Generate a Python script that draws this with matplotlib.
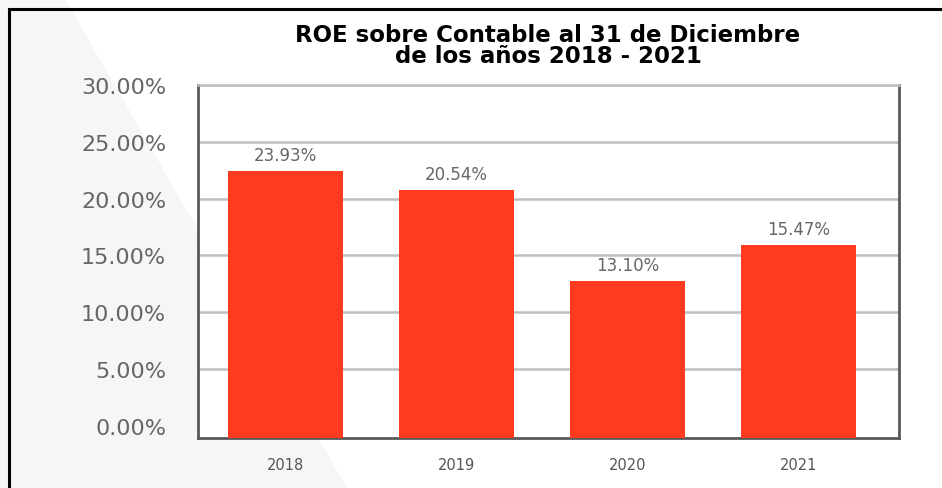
import matplotlib.pyplot as plt
from matplotlib.lines import Line2D
from matplotlib.patches import Polygon
import numpy as np

# data
years = ['2018', '2019', '2020', '2021']
bar_heights = [22.45, 20.77, 12.76, 15.93]   # drawn bar heights (%)
value_labels = ['23.93%', '20.54%', '13.10%', '15.47%']
y_ticks = [0, 5, 10, 15, 20, 25, 30]
y_tick_labels = ['0.00%', '5.00%', '10.00%', '15.00%', '20.00%', '25.00%', '30.00%']

title = 'ROE sobre Contable al 31 de Diciembre\nde los años 2018 - 2021'
bar_color = '#FF3B1F'
text_gray = '#666666'

fig = plt.figure(figsize=(9.42, 4.89), dpi=100)
fig.patch.set_facecolor('white')

# light gray diagonal band on the left side of the slide
W, H = 942, 489
band = Polygon([(0, 1), (65 / W, 1), (347 / W, 0), (0, 0)], closed=True,
               transform=fig.transFigure, facecolor='#F6F6F6', edgecolor='none', zorder=0)
fig.add_artist(band)

# black frame lines (left and top)
fig.add_artist(Line2D([9 / W, 9 / W], [0, 1 - 10 / H], color='black', lw=2.2, transform=fig.transFigure))
fig.add_artist(Line2D([9 / W, 1], [1 - 10 / H, 1 - 10 / H], color='black', lw=2.2, transform=fig.transFigure))

ax = fig.add_axes([198 / W, 1 - 439 / H, 701 / W, 353 / H])
ax.set_facecolor('white')

y_low = -1.1
x = np.arange(len(years))
heights = np.array(bar_heights) - y_low
bars = ax.bar(x, heights, bottom=y_low, width=0.673, color=bar_color, zorder=3)

for b, lab in zip(bars, value_labels):
    ax.annotate(lab, (b.get_x() + b.get_width() / 2, b.get_y() + b.get_height()),
                xytext=(0, 5), textcoords='offset points', ha='center', va='bottom',
                fontsize=12, color=text_gray)

ax.set_xlim(-0.512, 3.587)
ax.set_ylim(y_low, 30)
ax.set_yticks(y_ticks)
ax.set_yticklabels(y_tick_labels)
ax.set_xticks(x)
ax.set_xticklabels(years)
ax.tick_params(axis='y', length=0, pad=23, labelsize=16, labelcolor=text_gray)
ax.tick_params(axis='x', length=0, pad=14, labelsize=10.5, labelcolor='#555555')

ax.yaxis.grid(True, color='#BFBFBF', lw=1.8, zorder=1)
ax.get_ygridlines()[0].set_visible(False)

for side in ['left', 'bottom', 'right']:
    ax.spines[side].set_color('#595959')
    ax.spines[side].set_linewidth(2)
ax.spines['top'].set_color('#BFBFBF')
ax.spines['top'].set_linewidth(1.8)

fig.text(548 / W, 1 - 46 / H, title, ha='center', va='center', fontsize=16.5,
         fontweight='heavy', color='black', linespacing=0.92)

fig.savefig('out.png', dpi=100)
